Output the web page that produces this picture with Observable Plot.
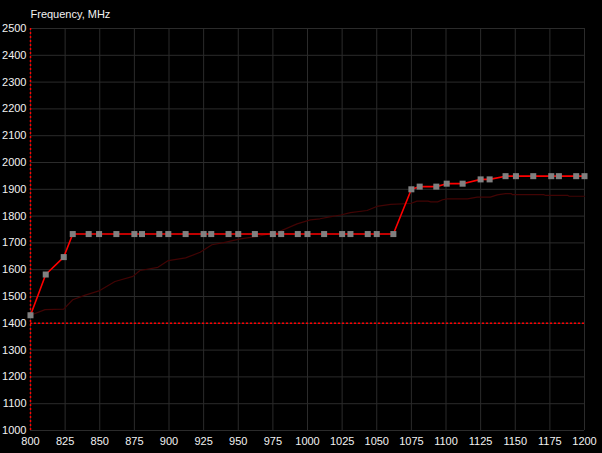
<!DOCTYPE html>
<html>
<head>
<meta charset="utf-8">
<script src="https://cdn.jsdelivr.net/npm/d3@7"></script>
<script src="https://cdn.jsdelivr.net/npm/@observablehq/plot@0.6"></script>
<style>
  html, body { margin: 0; padding: 0; background: #000; }
  #chart svg { display: block; }
</style>
</head>
<body>
<div id="chart"></div>
<script>
const title = "Frequency, MHz";

// Main series (red line with grey square markers)
const clockX = [800, 811, 824, 830.5, 842, 849.5, 862, 875, 880.5, 893, 899.5, 912, 925, 930.5, 943, 950, 962, 975, 981, 993, 1000, 1012, 1025, 1031, 1043.5, 1050, 1062, 1075, 1081, 1093, 1100.5, 1112, 1125, 1131.5, 1143, 1150.5, 1163, 1176, 1181.5, 1194, 1200];
const clockY = [1430, 1582, 1647, 1733, 1733, 1733, 1733, 1733, 1733, 1733, 1733, 1733, 1733, 1733, 1733, 1733, 1733, 1733, 1733, 1733, 1733, 1733, 1733, 1733, 1733, 1733, 1733, 1900, 1910, 1910, 1921, 1921, 1937, 1937, 1949, 1949, 1949, 1949, 1949, 1949, 1949];

// Secondary series (dark red line)
const refX = [800, 810.5, 824, 830.5, 839, 850, 861, 874, 879, 892, 899.5, 912, 922.5, 931, 939.5, 951.5, 963.5, 978, 985, 992.5, 1002, 1009, 1017, 1024, 1031, 1043, 1050, 1060, 1074.5, 1079, 1087, 1089, 1094, 1097.5, 1101, 1115.5, 1122.5, 1132, 1137, 1143, 1147, 1148, 1170.5, 1172, 1188, 1189, 1200];
const refY = [1430, 1451, 1453, 1488, 1504, 1522, 1556, 1575, 1597, 1609, 1634, 1644, 1665, 1693, 1701, 1715, 1724, 1739, 1754, 1771, 1786, 1790, 1798, 1804, 1813, 1821, 1836, 1844, 1847, 1856, 1856, 1853, 1853, 1861, 1864, 1864, 1871, 1871, 1879, 1884, 1884, 1880, 1880, 1877, 1877, 1874, 1874];

const xTicks = d3.range(800, 1201, 25);
const yTicks = d3.range(1000, 2501, 100);
const refLineX = [800];
const refLineY = [1400];

const clock = clockX.map((x, i) => ({x, y: clockY[i]}));
const ref = refX.map((x, i) => ({x, y: refY[i]}));

const chart = Plot.plot({
  width: 602,
  height: 453,
  marginLeft: 30,
  marginRight: 18,
  marginTop: 28,
  marginBottom: 23,
  style: {background: "#000", color: "#f2f2f2", fontFamily: "'Liberation Sans', Arial, sans-serif", fontSize: "11px"},
  x: {domain: [800, 1200]},
  y: {domain: [1000, 2500]},
  marks: [
    Plot.gridX(xTicks, {stroke: "#2b2b2b", strokeOpacity: 1}),
    Plot.gridY(yTicks, {stroke: "#2b2b2b", strokeOpacity: 1}),
    Plot.ruleX(refLineX, {stroke: "#ff0000", strokeDasharray: "2,2", strokeWidth: 1.5}),
    Plot.ruleY(refLineY, {stroke: "#ff0000", strokeDasharray: "2,2", strokeWidth: 1.5}),
    Plot.axisX({ticks: xTicks, tickFormat: "d", tickSize: 0, tickPadding: 7, label: null, fill: "#f2f2f2"}),
    Plot.axisY({ticks: yTicks, tickFormat: "d", tickSize: 0, tickPadding: 4, label: null, fill: "#f2f2f2"}),
    Plot.line(ref, {x: "x", y: "y", stroke: "#420404", strokeWidth: 1.2}),
    Plot.line(clock, {x: "x", y: "y", stroke: "#ff0000", strokeWidth: 1.6}),
    Plot.dot(clock, {x: "x", y: "y", symbol: "square", r: 3.4, fill: "#808080", stroke: "none"}),
    Plot.text([title], {frameAnchor: "top-left", dy: -18, textAnchor: "start", fill: "#f2f2f2", fontSize: 11})
  ]
});
document.getElementById("chart").append(chart);
</script>
</body>
</html>
